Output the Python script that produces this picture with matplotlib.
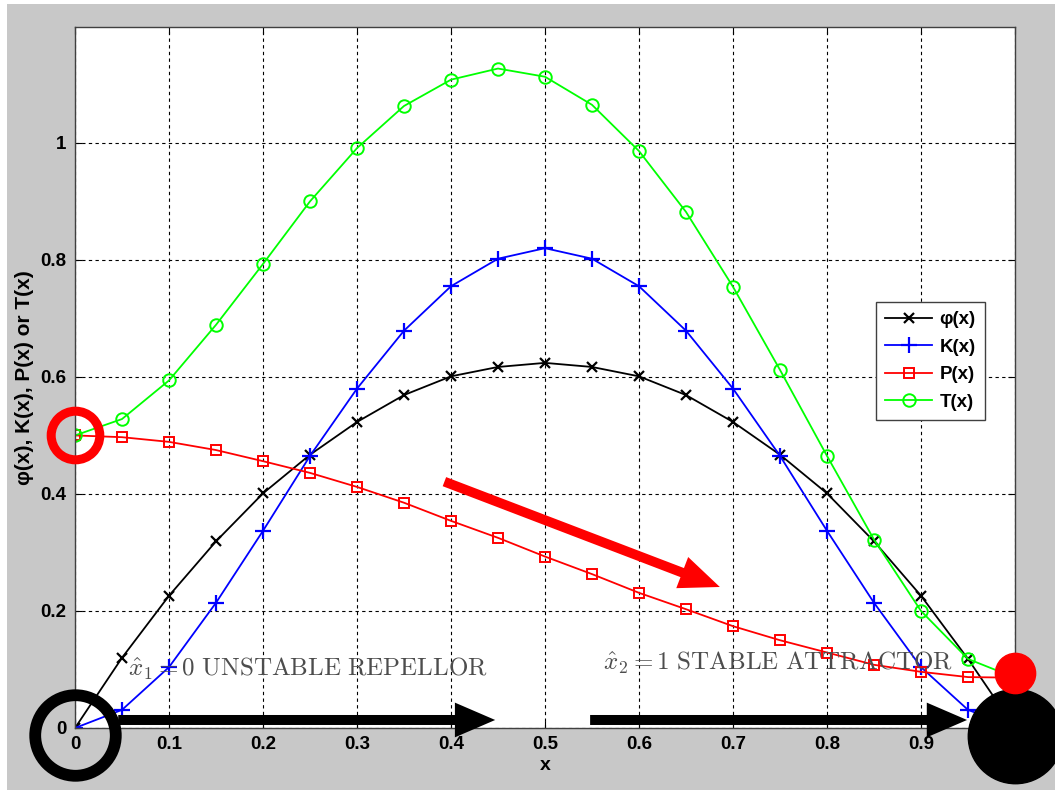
import matplotlib
matplotlib.use("Agg")
import matplotlib.pyplot as plt
from matplotlib.patches import Rectangle

plt.rcParams['font.family'] = ['Liberation Sans', 'DejaVu Sans']
plt.rcParams['mathtext.fontset'] = 'cm'

# grid of x values and the four curves
x = [0.0, 0.05, 0.1, 0.15, 0.2, 0.25, 0.3, 0.35, 0.4, 0.45, 0.5,
     0.55, 0.6, 0.65, 0.7, 0.75, 0.8, 0.85, 0.9, 0.95, 1.0]
phi = [0.0, 0.120, 0.226, 0.319, 0.401, 0.467, 0.523, 0.569, 0.601, 0.617, 0.624,
       0.617, 0.601, 0.569, 0.523, 0.467, 0.401, 0.319, 0.226, 0.118, 0.0]
K = [0.0, 0.031, 0.104, 0.214, 0.337, 0.465, 0.580, 0.679, 0.755, 0.802, 0.820,
     0.802, 0.755, 0.679, 0.580, 0.465, 0.337, 0.214, 0.104, 0.031, 0.0]
P = [0.500, 0.497, 0.489, 0.475, 0.456, 0.436, 0.412, 0.385, 0.354, 0.325, 0.293,
     0.263, 0.231, 0.203, 0.174, 0.150, 0.129, 0.108, 0.096, 0.087, 0.086]
T = [0.500, 0.528, 0.594, 0.689, 0.793, 0.900, 0.991, 1.063, 1.108, 1.127, 1.113,
     1.065, 0.986, 0.882, 0.754, 0.612, 0.465, 0.322, 0.200, 0.118, 0.086]

xticks = [0, 0.1, 0.2, 0.3, 0.4, 0.5, 0.6, 0.7, 0.8, 0.9, 1.0]
xticklabels = ['0', '0.1', '0.2', '0.3', '0.4', '0.5', '0.6', '0.7', '0.8', '0.9', '1']
yticks = [0, 0.2, 0.4, 0.6, 0.8, 1.0]
yticklabels = ['0', '0.2', '0.4', '0.6', '0.8', '1']

fig = plt.figure(figsize=(10.55, 7.93), dpi=100, facecolor='white')
fig.patches.append(Rectangle((7 / 1055, 3 / 793), 1.0, 786 / 793,
                             transform=fig.transFigure, facecolor='#c8c8c8',
                             edgecolor='none', zorder=-10))
ax = fig.add_axes([75 / 1055, 1 - 728 / 793, 940 / 1055, 701 / 793])
ax.set_facecolor('white')

ax.plot(x, phi, color='black', lw=1.3, marker='x', ms=7, mew=1.6, label='\u03c6(x)')
ax.plot(x, K, color='#0000ff', lw=1.3, marker='+', ms=11, mew=1.6, label='K(x)')
ax.plot(x, P, color='#ff0000', lw=1.3, marker='s', ms=6.5, mew=1.4, mfc='none', label='P(x)')
ax.plot(x, T, color='#00ff00', lw=1.3, marker='o', ms=9, mew=1.4, mfc='none', label='T(x)')

ax.set_xlim(0, 1)
ax.set_ylim(0, 1.198)
ax.set_xticks(xticks)
ax.set_xticklabels(xticklabels)
ax.set_yticks(yticks)
ax.set_yticklabels(yticklabels)
ax.tick_params(direction='in', top=True, right=True, length=5, width=0.8,
               labelsize=13.5, pad=6)
for lab in ax.get_xticklabels() + ax.get_yticklabels():
    lab.set_fontweight('bold')
ax.grid(True, color='black', linestyle=(0, (3, 3)), lw=0.8)
for s in ax.spines.values():
    s.set_color('#404040')
    s.set_linewidth(1.0)

ax.set_xlabel('x', fontsize=14, fontweight='bold', labelpad=3)
ax.set_ylabel('\u03c6(x), K(x), P(x) or T(x)', fontsize=15, fontweight='bold', labelpad=5)

leg = ax.legend(loc='upper left', bbox_to_anchor=(0.852, 0.608), borderaxespad=0,
                fancybox=False, framealpha=1, edgecolor='#404040',
                prop={'weight': 'bold', 'size': 13.5}, handlelength=2.5,
                labelspacing=0.55, borderpad=0.5, handletextpad=0.4)
leg.get_frame().set_linewidth(1.0)
leg.set_zorder(5)

# fixed-point annotations
ax.text(0.0564, 0.089, r'$\hat{x}_1 = 0\ \mathrm{UNSTABLE\ REPELLOR}$', color='#4d4d4d',
        fontsize=18, va='baseline', ha='left', zorder=4)
ax.text(0.562, 0.099, r'$\hat{x}_2 = 1\ \mathrm{STABLE\ ATTRACTOR}$', color='#4d4d4d',
        fontsize=18, va='baseline', ha='left', zorder=4)

arrow_black = dict(arrowstyle='simple,head_width=2.5,head_length=2.9,tail_width=0.72',
                   mutation_scale=10, color='black', lw=0, shrinkA=0, shrinkB=0)
ax.annotate('', xy=(0.447, 0.0137), xytext=(0.046, 0.0137), arrowprops=arrow_black,
            annotation_clip=False, zorder=6)
ax.annotate('', xy=(0.949, 0.0137), xytext=(0.548, 0.0137), arrowprops=arrow_black,
            annotation_clip=False, zorder=6)
arrow_red = dict(arrowstyle='simple,head_width=2.4,head_length=2.9,tail_width=0.7',
                 mutation_scale=10, color='#ff0000', lw=0, shrinkA=0, shrinkB=0)
ax.annotate('', xy=(0.686, 0.241), xytext=(0.393, 0.421), arrowprops=arrow_red,
            zorder=6)

# markers on the two fixed points
ax.plot([x[0]], [P[0]], marker='o', ms=35, mew=6.5, mfc='none', mec='#ff0000',
        clip_on=False, zorder=7)
ax.plot([x[0]], [phi[0] - 0.012], marker='o', ms=58, mew=8.5, mfc='none', mec='black',
        clip_on=False, zorder=7)
ax.plot([x[-1]], [phi[-1] - 0.014], marker='o', ms=68, mfc='black', mec='black',
        clip_on=False, zorder=7)
ax.plot([x[-1]], [P[-1] + 0.008], marker='o', ms=29, mfc='#ff0000', mec='#ff0000',
        clip_on=False, zorder=8)

fig.savefig('out.png', dpi=100, facecolor=fig.get_facecolor())
